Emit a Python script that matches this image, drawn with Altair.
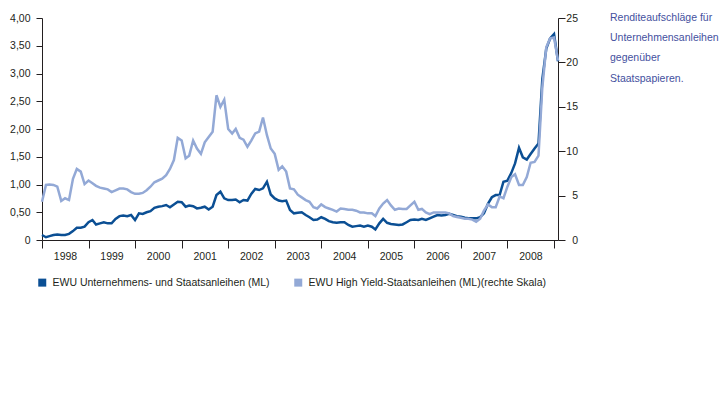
import altair as alt
import pandas as pd

# Monthly observations, Jan 1998 .. Feb 2009
months = pd.date_range("1998-01-01", periods=134, freq="MS").strftime("%Y-%m-%dT00:00:00").tolist()

corp = [0.09, 0.05, 0.07, 0.09, 0.10, 0.09, 0.09, 0.11, 0.16, 0.22, 0.22, 0.24,
        0.32, 0.36, 0.28, 0.30, 0.32, 0.30, 0.30, 0.38, 0.43, 0.44, 0.43, 0.45,
        0.36, 0.48, 0.47, 0.50, 0.52, 0.58, 0.60, 0.61, 0.63, 0.59, 0.64, 0.69,
        0.68, 0.60, 0.62, 0.61, 0.57, 0.58, 0.60, 0.55, 0.60, 0.81, 0.87, 0.75,
        0.72, 0.72, 0.73, 0.68, 0.72, 0.71, 0.83, 0.92, 0.90, 0.93, 1.05, 0.82,
        0.75, 0.71, 0.70, 0.71, 0.54, 0.48, 0.49, 0.50, 0.45, 0.41, 0.36, 0.37,
        0.41, 0.38, 0.34, 0.32, 0.31, 0.32, 0.32, 0.27, 0.24, 0.25, 0.26, 0.24,
        0.26, 0.24, 0.19, 0.30, 0.38, 0.31, 0.29, 0.28, 0.27, 0.28, 0.32, 0.36,
        0.37, 0.36, 0.38, 0.36, 0.39, 0.42, 0.45, 0.44, 0.45, 0.47, 0.45, 0.43,
        0.42, 0.40, 0.39, 0.39, 0.39, 0.41, 0.48, 0.65, 0.77, 0.81, 0.81, 1.05,
        1.07, 1.21, 1.38, 1.66, 1.49, 1.45, 1.55, 1.65, 1.74, 2.90, 3.45, 3.63,
        3.71, 3.22]

high_yield = [4.3, 6.2, 6.25, 6.2, 6.0, 4.4, 4.7, 4.5, 6.9, 8.0, 7.7, 6.3,
              6.7, 6.4, 6.1, 5.9, 5.8, 5.7, 5.4, 5.6, 5.8, 5.8, 5.7, 5.4,
              5.2, 5.2, 5.3, 5.6, 6.0, 6.5, 6.7, 6.9, 7.3, 8.0, 9.0, 11.5,
              11.2, 9.2, 9.5, 11.2, 10.3, 9.7, 11.0, 11.6, 12.2, 16.3, 15.0, 15.8,
              12.5, 12.0, 12.5, 11.5, 11.3, 10.5, 11.2, 12.0, 12.2, 13.8, 11.8, 10.3,
              9.7, 7.9, 8.3, 7.7, 5.8, 5.7, 5.1, 4.8, 4.5, 4.3, 3.7, 3.55,
              4.0, 3.7, 3.55, 3.4, 3.2, 3.55, 3.5, 3.4, 3.4, 3.3, 3.1, 3.1,
              3.0, 3.0, 2.7, 3.55, 4.1, 4.5, 3.9, 3.4, 3.55, 3.5, 3.5, 3.9,
              4.3, 3.4, 3.5, 3.1, 2.9, 3.1, 3.1, 3.1, 3.1, 3.0, 2.7, 2.6,
              2.5, 2.4, 2.4, 2.3, 2.05, 2.4, 3.3, 4.0, 3.7, 3.7, 4.9, 4.7,
              6.0, 7.1, 7.4, 6.2, 6.2, 7.1, 8.7, 8.8, 9.5, 17.2, 21.7, 22.7,
              22.8, 20.2]

series_names = ["EWU Unternehmens- und Staatsanleihen (ML)",
                "EWU High Yield-Staatsanleihen (ML)(rechte Skala)"]
series_colors = ["#0b4f94", "#93a9d6"]
note_lines = ["Renditeaufschläge für", "Unternehmensanleihen", "gegenüber", "Staatspapieren."]
year_ticks = list(range(1998, 2010))
left_ticks = [0, 0.5, 1.0, 1.5, 2.0, 2.5, 3.0, 3.5, 4.0]
right_ticks = [0, 5, 10, 15, 20, 25]

FONT = "Liberation Sans"
FS = 10.5
INK = "#231f20"
NOTE_COLOR = "#44509e"

df = pd.DataFrame({
    "date": months * 2,
    "value": corp + high_yield,
    "series": [series_names[0]] * len(corp) + [series_names[1]] * len(high_yield),
})

x_enc = alt.X(
    "date:T",
    scale=alt.Scale(domain=[alt.DateTime(year=1998, month=1, date=1),
                            alt.DateTime(year=2009, month=2, date=1)]),
    axis=alt.Axis(
        values=[alt.DateTime(year=y, month=1, date=1) for y in year_ticks],
        labelExpr="year(datum.value) > 2008 ? '' : timeFormat(datum.value, '%Y')",
        labelOffset=23, tickSize=8, labelPadding=3, title=None, grid=False,
        labelFlush=False, labelOverlap=False,
    ),
)

color_enc = alt.Color(
    "series:N",
    scale=alt.Scale(domain=series_names, range=series_colors),
    legend=alt.Legend(
        orient="none", legendX=-5, legendY=259, direction="horizontal",
        title=None, symbolType="square", symbolSize=16, symbolStrokeWidth=4,
        labelFont=FONT, labelFontSize=FS, labelColor=INK, labelOffset=5,
        columnPadding=18, padding=0, labelLimit=0,
    ),
)

base = alt.Chart(df)

dark = base.transform_filter(alt.datum.series == series_names[0]).mark_line(
    strokeWidth=2.5
).encode(
    x=x_enc,
    y=alt.Y("value:Q", scale=alt.Scale(domain=[0, 4]),
            axis=alt.Axis(orient="left", values=left_ticks, title=None, grid=False,
                          tickSize=6, labelPadding=6,
                          labelExpr="datum.value == 0 ? '0' : replace(format(datum.value, '.2f'), '.', ',')")),
    color=color_enc,
)

light = base.transform_filter(alt.datum.series == series_names[1]).mark_line(
    strokeWidth=2.5
).encode(
    x=x_enc,
    y=alt.Y("value:Q", scale=alt.Scale(domain=[0, 25]),
            axis=alt.Axis(orient="right", values=right_ticks, title=None, grid=False,
                          tickSize=7, labelPadding=12.5, labelAlign="right")),
    color=color_enc,
)

note = alt.Chart(pd.DataFrame({"note": ["\n".join(note_lines)]})).mark_text(
    align="left", baseline="alphabetic", lineBreak="\n", lineHeight=20.3,
    font=FONT, fontSize=FS, color=NOTE_COLOR,
).encode(x=alt.value(568), y=alt.value(2.7), text="note:N")

chart = alt.layer(dark, light, note).resolve_scale(y="independent").properties(
    width=516, height=222,
    autosize=alt.AutoSizeParams(type="none"),
    padding={"left": 34, "top": 10, "right": 161, "bottom": 152},
).configure_view(stroke=None).configure_axis(
    domainColor=INK, tickColor=INK, labelColor=INK, labelFont=FONT,
    labelFontSize=FS, domainWidth=1, tickWidth=1,
)

chart.save("out.html", embed_options={"renderer": "svg", "actions": False})
